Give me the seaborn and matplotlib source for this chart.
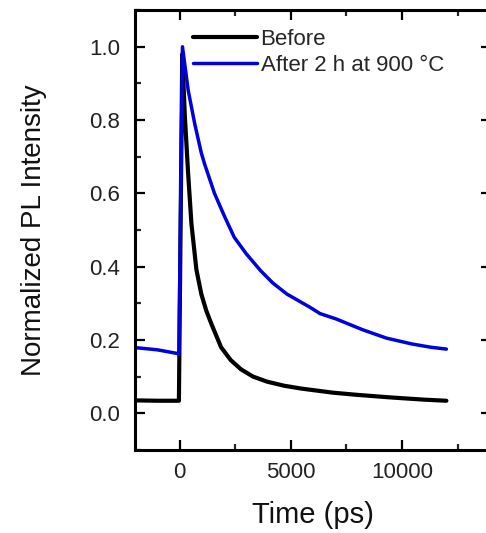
import pandas as pd
import seaborn as sns
import matplotlib.pyplot as plt
from matplotlib.ticker import MultipleLocator

# values
before_time = [-2000, -1000, -30, 120, 237, 385, 533, 756, 978, 1200, 1422,
               1867, 2300, 2756, 3300, 3941, 4700, 5500, 6900, 8000, 9500,
               11000, 12000]
before_pl = [0.035, 0.034, 0.034, 0.98, 0.81, 0.654, 0.517, 0.392, 0.325,
             0.280, 0.245, 0.180, 0.145, 0.120, 0.100, 0.086, 0.075, 0.067,
             0.056, 0.050, 0.043, 0.037, 0.034]

after_time = [-2000, -1000, -100, -30, 130, 385, 681, 978, 1126, 1570, 2000,
              2459, 3000, 3644, 4200, 4830, 5867, 6311, 7052, 8222, 9300,
              10444, 11300, 12000]
after_pl = [0.179, 0.173, 0.163, 0.160, 1.0, 0.882, 0.79, 0.71, 0.68, 0.60,
            0.54, 0.48, 0.435, 0.389, 0.355, 0.325, 0.289, 0.272, 0.257,
            0.228, 0.205, 0.189, 0.180, 0.175]

labels = ['Before', 'After 2 h at 900 °C']

df_before = pd.DataFrame({'time': before_time, 'pl': before_pl})
df_after = pd.DataFrame({'time': after_time, 'pl': after_pl})

sns.set_theme(style='ticks')
plt.rcParams['font.family'] = ['Liberation Sans', 'DejaVu Sans']

fig = plt.figure(figsize=(4.86, 5.33), dpi=100)
ax = fig.add_axes([0.278, 0.156, 0.732, 0.825])

sns.lineplot(data=df_before, x='time', y='pl', color='black', linewidth=3,
             label=labels[0], ax=ax, estimator=None)
sns.lineplot(data=df_after, x='time', y='pl', color='#0000dd', linewidth=2.5,
             label=labels[1], ax=ax, estimator=None)

ax.set_xlim(-2000, 14000)
ax.set_ylim(-0.1, 1.1)
ax.xaxis.set_major_locator(MultipleLocator(5000))
ax.xaxis.set_minor_locator(MultipleLocator(2500))
ax.yaxis.set_major_locator(MultipleLocator(0.2))
ax.yaxis.set_minor_locator(MultipleLocator(0.1))
ax.set_xticks([0, 5000, 10000])
ax.set_yticks([0.0, 0.2, 0.4, 0.6, 0.8, 1.0])
ax.set_yticklabels(['0.0', '0.2', '0.4', '0.6', '0.8', '1.0'])

for s in ax.spines.values():
    s.set_linewidth(2.2)
    s.set_color('black')

ax.tick_params(which='major', direction='in', length=7, width=1.6,
               top=True, right=True, labelsize=16, colors='black')
ax.tick_params(axis='y', which='major', pad=11)
ax.tick_params(axis='x', which='major', pad=9)
ax.tick_params(which='minor', direction='in', length=4.5, width=1.6,
               top=True, right=False)
for lab in ax.get_xticklabels() + ax.get_yticklabels():
    lab.set_color('#222222')

ax.set_xlabel('Time (ps)', fontsize=21, labelpad=13, color='#111111')
ax.set_ylabel('Normalized PL Intensity', fontsize=20, labelpad=30, color='#111111')

ax.legend(loc='upper left', bbox_to_anchor=(0.162, 0.958), frameon=False,
          fontsize=16, handlelength=2.9, handletextpad=0.15, labelspacing=0.25,
          borderpad=0, borderaxespad=0)

plt.savefig('out.png', dpi=100)
